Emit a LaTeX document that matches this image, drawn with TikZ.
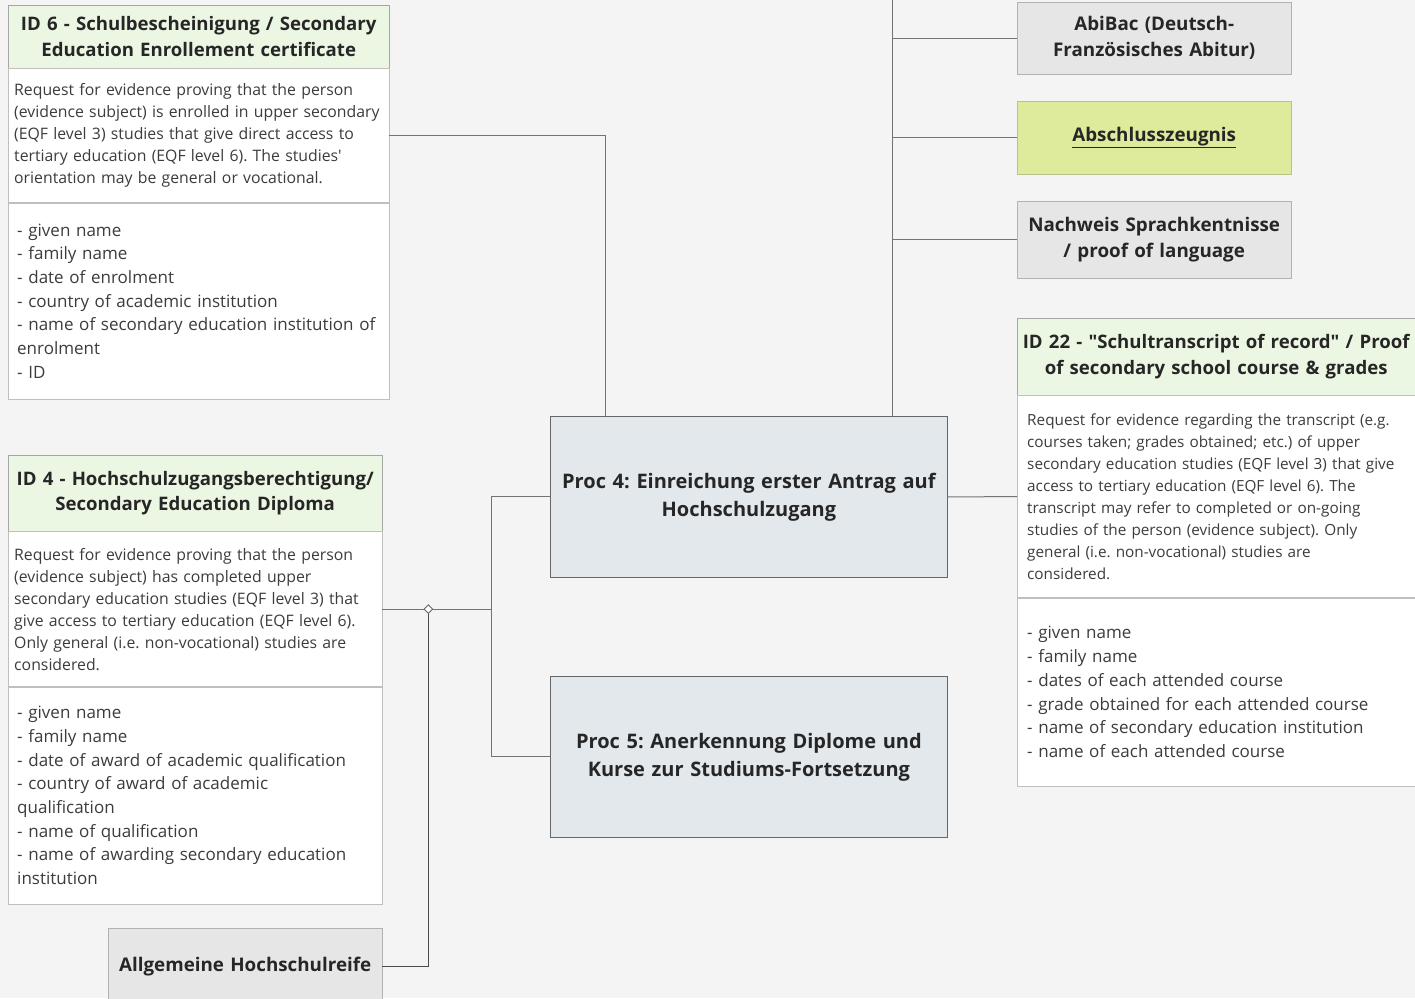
\documentclass[tikz,border=0pt]{standalone}
\usepackage{fontspec}
\setmainfont{Open Sans}
\usetikzlibrary{shapes.geometric}
\definecolor{canvas}{HTML}{F4F4F4}
\definecolor{titlegreen}{HTML}{EBF6E3}
\definecolor{procblue}{HTML}{E3E8EC}
\definecolor{docgray}{HTML}{E6E6E6}
\definecolor{docyellow}{HTML}{DEEA9C}
\definecolor{inkdark}{HTML}{262626}
\definecolor{inkbody}{HTML}{3C3C3C}
\frenchspacing

\begin{document}
\begin{tikzpicture}[
        x=1pt, y=-1pt,
        title/.style={draw=black!35, fill=titlegreen, align=center, anchor=north west,
                      inner xsep=6pt, inner ysep=0pt, text=inkdark,
                      font=\bfseries\fontsize{18.6}{25.5}\selectfont},
        desc/.style={draw=black!25, fill=white, align=left, anchor=north,
                     inner xsep=6pt, inner ysep=0pt, text=inkbody,
                     font=\fontsize{15.8}{22}\selectfont},
        attrs/.style={desc, font=\fontsize{17}{23.7}\selectfont},
        proc/.style={draw=black!60, fill=procblue, align=center, anchor=north west,
                     text width=385pt, minimum height=161pt, line width=0.8pt,
                     inner xsep=6pt, text=inkdark, font=\bfseries\fontsize{20}{28}\selectfont},
        doc/.style={draw=black!30, fill=docgray, align=center, anchor=north west,
                    text width=264pt, inner xsep=5pt, inner ysep=0pt, text=inkdark,
                    font=\bfseries\fontsize{18.8}{26}\selectfont},
        link/.style={draw=black!55, line width=1pt},
        junc/.style={diamond, draw=black!60, fill=white, line width=0.9pt,
                     inner sep=0pt, minimum size=9pt}
    ]
    \fill[canvas] (0,0) rectangle (1415,998);
    \useasboundingbox (0,0) rectangle (1415,998);

    % ID 6 card
    \node[title, text width=369pt, minimum height=63pt] (id6title) at (8,5)
        {ID 6 - Schulbescheinigung / Secondary\\Education Enrollement certificate};
    \node[desc, text width=369pt, minimum height=134pt] (id6desc) at (id6title.south)
        {Request for evidence proving that the person\\
         (evidence subject) is enrolled in upper secondary\\
         (EQF level 3) studies that give direct access to\\
         tertiary education (EQF level 6). The studies\textquotesingle\\
         orientation may be general or vocational.};
    \node[attrs, inner xsep=9pt, text width=363pt, minimum height=196pt] (id6attr) at (id6desc.south)
        {- given name\\- family name\\- date of enrolment\\- country of academic institution\\
         - name of secondary education institution of\\enrolment\\- ID};

    % ID 4 card
    \node[title, text width=362pt, minimum height=76pt] (id4title) at (8,455)
        {ID 4 - Hochschulzugangsberechtigung/\\Secondary Education Diploma};
    \node[desc, text width=362pt, minimum height=155pt] (id4desc) at (id4title.south)
        {Request for evidence proving that the person\\
         (evidence subject) has completed upper\\
         secondary education studies (EQF level 3) that\\
         give access to tertiary education (EQF level 6).\\
         Only general (i.e. non-vocational) studies are\\
         considered.};
    \node[attrs, inner xsep=9pt, text width=356pt, minimum height=217pt] (id4attr) at (id4desc.south)
        {- given name\\- family name\\- date of award of academic qualification\\
         - country of award of academic\\qualification\\- name of qualification\\
         - name of awarding secondary education\\institution};

    % ID 22 card
    \node[title, inner xsep=4pt, text width=390pt, minimum height=77pt] (id22title) at (1017,318)
        {ID 22 - \textquotedbl Schultranscript of record\textquotedbl{} / Proof\\of secondary school course \& grades};
    \node[desc, inner xsep=10pt, text width=378pt, minimum height=202pt,
          font=\fontsize{15.3}{22}\selectfont] (id22desc) at (id22title.south)
        {Request for evidence regarding the transcript (e.g.\\
         courses taken; grades obtained; etc.) of upper\\
         secondary education studies (EQF level 3) that give\\
         access to tertiary education (EQF level 6). The\\
         transcript may refer to completed or on-going\\
         studies of the person (evidence subject). Only\\
         general (i.e. non-vocational) studies are\\
         considered.};
    \node[attrs, inner xsep=10pt, text width=378pt, minimum height=188pt] (id22attr) at (id22desc.south)
        {- given name\\- family name\\- dates of each attended course\\
         - grade obtained for each attended course\\
         - name of secondary education institution\\- name of each attended course};

    % processes
    \node[proc] (proc4) at (550,416) {Proc 4: Einreichung erster Antrag auf\\Hochschulzugang};
    \node[proc] (proc5) at (550,676) {Proc 5: Anerkennung Diplome und\\Kurse zur Studiums-Fortsetzung};

    % documents
    \node[doc, minimum height=72pt] (abibac) at (1017,2) {AbiBac (Deutsch-\\Französisches Abitur)};
    \node[doc, fill=docyellow, draw=docyellow!80!black!90, minimum height=73pt] (abschluss) at (1017,101)
        {\underline{Abschlusszeugnis}};
    \node[doc, minimum height=77pt] (nachweis) at (1017,201) {Nachweis Sprachkentnisse\\/ proof of language};
    \node[doc, minimum height=76pt] (allg) at (108,928) {Allgemeine Hochschulreife};

    % connectors
    \coordinate (topbus) at (892,0);
    \coordinate (leftbus) at (491,496);
    \draw[link] (id6desc.east) -| ([xshift=55pt]proc4.north west);
    \draw[link] (topbus) -- (topbus |- proc4.north);
    \foreach \n in {abibac, abschluss, nachweis}
        \draw[link] (topbus |- \n.west) -- (\n.west);
    \draw[link] (proc4.east) -- (id22desc.west);
    \draw[link] (proc4.west) -- (proc4.west -| leftbus) -- (leftbus |- proc5.west) -- (proc5.west);
    \draw[link] (id4desc.east) -- (id4desc.east -| leftbus);
    \node[junc] (split) at ([xshift=46pt]id4desc.east) {};
    \draw[link, draw=black!70] (split) |- (allg.east);
\end{tikzpicture}
\end{document}
